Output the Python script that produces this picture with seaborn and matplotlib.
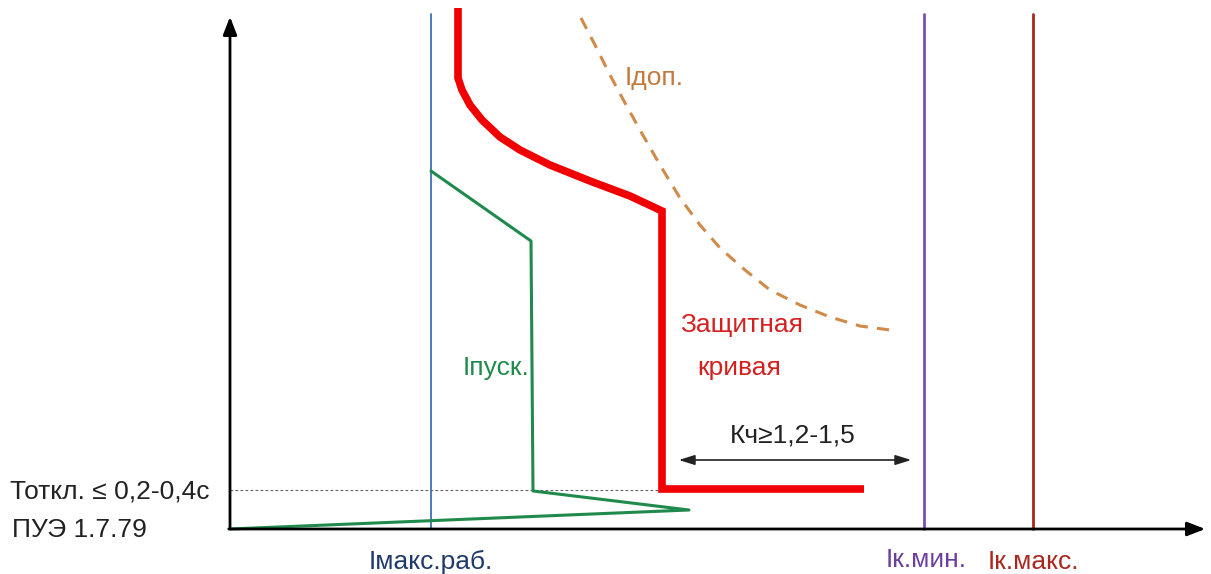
import matplotlib
matplotlib.use("Agg")
import matplotlib.pyplot as plt
import seaborn as sns

# --- Scheme data (current along x, time along y, origin at the axes corner) ---
protect_x = [228, 228, 232, 240, 252, 270, 290, 320, 360, 400, 432, 432, 634]
protect_t = [521, 451, 439, 424, 409, 392, 379, 364, 348, 333, 318, 40, 40]

start_x = [0, 459, 303, 301, 201]
start_t = [0, 19, 38, 288, 358]

allow_x = [351, 365, 380, 395, 410, 430, 450, 470, 490, 515, 540, 570, 600, 630, 660]
allow_t = [511, 484, 454, 426, 399, 364, 331, 304, 281, 259, 239, 224, 212, 203, 199]

i_work = 201
i_kmin = 694
i_kmax = 803
t_off = 39
kch_from, kch_to, kch_t = 446, 684, 69

x_end, t_end = 978, 515

sns.set_theme(style="white")
plt.rcParams["font.family"] = ["Liberation Sans", "DejaVu Sans"]

fig = plt.figure(figsize=(12.11, 5.74), dpi=100)
ax = fig.add_axes([0, 0, 1, 1])
ax.set_xlim(-230, 981)
ax.set_ylim(-45, 529)
ax.axis("off")

# axes with arrows
ax.annotate("", xy=(x_end, 0), xytext=(-4, 0),
            arrowprops=dict(arrowstyle="-|>,head_length=0.9,head_width=0.35", color="black", lw=2))
ax.annotate("", xy=(0, t_end), xytext=(0, -2),
            arrowprops=dict(arrowstyle="-|>,head_length=0.9,head_width=0.35", color="black", lw=2))

# vertical current levels
ax.plot([i_work, i_work], [0, t_end], color="#4a7db5", lw=1.4)
ax.plot([i_kmin, i_kmin], [0, t_end], color="#7b4fb0", lw=2)
ax.plot([i_kmax, i_kmax], [0, t_end], color="#a8281e", lw=2)

# tripping time level
ax.plot([0, protect_x[-2]], [t_off, t_off], color="#666666", lw=0.8, ls=(0, (2.5, 2)))

# curves
sns.lineplot(x=start_x, y=start_t, sort=False, estimator=None, ax=ax, color="#1f8a4c", lw=2.2)
sns.lineplot(x=allow_x, y=allow_t, sort=False, estimator=None, ax=ax, color="#d08a4a", lw=2.2,
             linestyle=(0, (4, 3)))
sns.lineplot(x=protect_x, y=protect_t, sort=False, estimator=None, ax=ax, color="#f00000", lw=5.5)
ax.lines[-1].set_solid_joinstyle("miter")
ax.lines[-1].set_solid_capstyle("butt")

# sensitivity arrow
ax.annotate("", xy=(kch_to, kch_t), xytext=(kch_from, kch_t),
            arrowprops=dict(arrowstyle="<|-|>,head_length=0.8,head_width=0.25", color="#222222", lw=1.2))
fs = 19
ax.text((kch_from + kch_to) / 2 - 2, 93, "Кч≥1,2-1,5", fontsize=fs, color="#222222",
        ha="center", va="center")

# labels
ax.text(395, 451, "Iдоп.", fontsize=fs, color="#c37a3e", va="center")
ax.text(450, 204, "Защитная", fontsize=fs, color="#d42020", va="center")
ax.text(467, 161, "кривая", fontsize=fs, color="#d42020", va="center")
ax.text(233, 161, "Iпуск.", fontsize=fs, color="#1f8a4c", va="center")
ax.text(-220, 37, "Тоткл. ≤ 0,2-0,4с", fontsize=fs, color="#222222", va="center")
ax.text(-218, -1, "ПУЭ 1.7.79", fontsize=fs, color="#222222", va="center")
ax.text(i_work, -33, "Iмакс.раб.", fontsize=fs, color="#1f3a6a", ha="center", va="center")
ax.text(i_kmin + 2, -31, "Iк.мин.", fontsize=fs, color="#6b3fa0", ha="center", va="center")
ax.text(i_kmax, -33, "Iк.макс.", fontsize=fs, color="#a8281e", ha="center", va="center")

fig.savefig("out.png", dpi=100)
